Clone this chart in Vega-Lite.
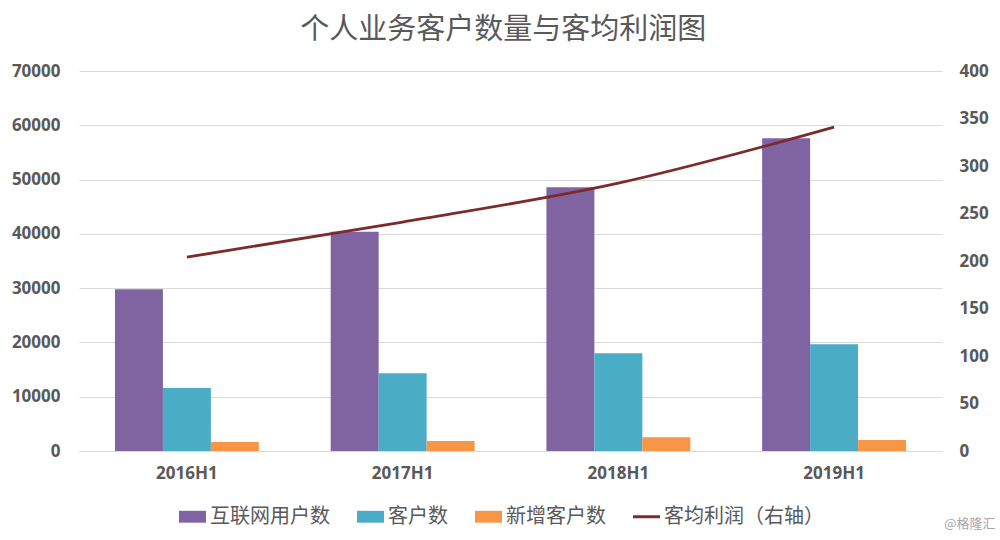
{
  "$schema": "https://vega.github.io/schema/vega-lite/v6.json",
  "width": 863,
  "height": 380,
  "autosize": {"type": "none"},
  "padding": {"left": 79, "top": 71, "right": 58, "bottom": 89},
  "background": "white",
  "title": {
    "text": "个人业务客户数量与客均利润图",
    "font": "Noto Sans CJK SC",
    "fontSize": 29,
    "fontWeight": "normal",
    "color": "#595959",
    "anchor": "middle",
    "frame": "bounds",
    "offset": 17
  },
  "data": {
    "values": [
      {"period": "2016H1", "series": "互联网用户数", "value": 29800},
      {"period": "2016H1", "series": "客户数", "value": 11600},
      {"period": "2016H1", "series": "新增客户数", "value": 1660},
      {"period": "2016H1", "series": "客均利润（右轴）", "value": 204},
      {"period": "2017H1", "series": "互联网用户数", "value": 40400},
      {"period": "2017H1", "series": "客户数", "value": 14300},
      {"period": "2017H1", "series": "新增客户数", "value": 1840},
      {"period": "2017H1", "series": "客均利润（右轴）", "value": 241},
      {"period": "2018H1", "series": "互联网用户数", "value": 48600},
      {"period": "2018H1", "series": "客户数", "value": 18000},
      {"period": "2018H1", "series": "新增客户数", "value": 2520},
      {"period": "2018H1", "series": "客均利润（右轴）", "value": 282},
      {"period": "2019H1", "series": "互联网用户数", "value": 57600},
      {"period": "2019H1", "series": "客户数", "value": 19650},
      {"period": "2019H1", "series": "新增客户数", "value": 2030},
      {"period": "2019H1", "series": "客均利润（右轴）", "value": 341}
    ]
  },
  "encoding": {
    "x": {
      "field": "period",
      "type": "nominal",
      "sort": null,
      "scale": {"paddingInner": 0.333, "paddingOuter": 0.1667},
      "axis": {
        "labelAngle": 0,
        "labelFont": "Open Sans",
        "labelFontSize": 17,
        "labelFontWeight": "bold",
        "labelColor": "#595959",
        "labelPadding": 14,
        "ticks": false,
        "domainColor": "#D9D9D9",
        "domainWidth": 1,
        "grid": false,
        "title": "@格隆汇",
        "titleFont": "Noto Sans CJK SC",
        "titleFontSize": 13,
        "titleFontWeight": "normal",
        "titleColor": "#A6A6A6",
        "titleAlign": "right",
        "titleAnchor": "end",
        "titleBaseline": "alphabetic",
        "titleX": 916,
        "titleY": 76
      }
    },
    "color": {
      "field": "series",
      "type": "nominal",
      "scale": {
        "domain": ["互联网用户数", "客户数", "新增客户数", "客均利润（右轴）"],
        "range": ["#8064A2", "#4BACC6", "#F79646", "#7B2B2B"]
      },
      "legend": {
        "title": null,
        "orient": "none",
        "legendX": 100,
        "legendY": 432,
        "direction": "horizontal",
        "labelFont": "Noto Sans CJK SC",
        "labelFontSize": 20,
        "labelColor": "#595959",
        "labelOffset": 4,
        "columnPadding": 27,
        "symbolSize": 729,
        "encode": {
          "symbols": {
            "update": {
              "shape": {"signal": "datum.value === '客均利润（右轴）' ? 'M-1,-0.11H1V0.11H-1Z' : 'M-1,-0.44H1V0.44H-1Z'"},
              "fill": {"signal": "scale('color', datum.value)"},
              "stroke": {"value": "transparent"},
              "strokeWidth": {"value": 0},
              "size": {"value": 729},
              "opacity": {"value": 1}
            }
          }
        }
      }
    }
  },
  "layer": [
    {
      "transform": [{"filter": "datum.series !== '客均利润（右轴）'"}],
      "mark": {"type": "bar"},
      "encoding": {
        "xOffset": {
          "field": "series",
          "type": "nominal",
          "sort": ["互联网用户数", "客户数", "新增客户数"],
          "scale": {"paddingInner": 0, "paddingOuter": 0}
        },
        "y": {
          "field": "value",
          "type": "quantitative",
          "scale": {"domain": [0, 70000], "nice": false},
          "axis": {
            "orient": "left",
            "title": null,
            "values": [0, 10000, 20000, 30000, 40000, 50000, 60000, 70000],
            "format": "d",
            "labelFont": "Open Sans",
            "labelFontSize": 17,
            "labelFontWeight": "bold",
            "labelColor": "#595959",
            "labelPadding": 19,
            "domain": false,
            "ticks": false,
            "grid": true,
            "gridColor": "#D9D9D9",
            "gridWidth": 1
          }
        }
      }
    },
    {
      "transform": [{"filter": "datum.series === '客均利润（右轴）'"}],
      "mark": {"type": "line", "interpolate": "monotone", "strokeWidth": 2.8},
      "encoding": {
        "y": {
          "field": "value",
          "type": "quantitative",
          "scale": {"domain": [0, 400], "nice": false},
          "axis": {
            "orient": "right",
            "title": null,
            "values": [0, 50, 100, 150, 200, 250, 300, 350, 400],
            "format": "d",
            "labelFont": "Open Sans",
            "labelFontSize": 17,
            "labelFontWeight": "bold",
            "labelColor": "#595959",
            "labelPadding": 17,
            "domain": false,
            "ticks": false,
            "grid": false
          }
        }
      }
    }
  ],
  "resolve": {"scale": {"y": "independent"}},
  "config": {
    "view": {"stroke": null}
  }
}
